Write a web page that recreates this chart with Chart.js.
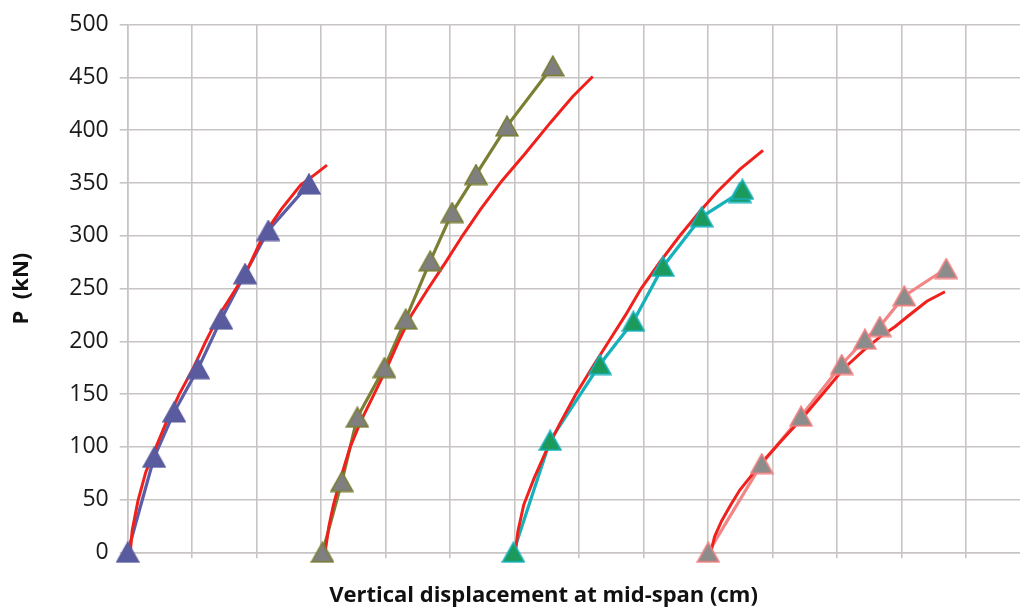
<!DOCTYPE html>
<html>
<head>
<meta charset="utf-8">
<script src="https://cdn.jsdelivr.net/npm/chart.js@4.4.1/dist/chart.umd.min.js"></script>
<style>
  html, body { margin: 0; padding: 0; background: #ffffff; overflow: hidden; }
  #wrap { width: 1020px; height: 614px; overflow: hidden; position: relative; }
  #c { position: absolute; left: 0; top: 0; }
</style>
</head>
<body>
<div id="wrap"><canvas id="c" width="1100" height="614"></canvas></div>
<script>
// ---- Data ----
const yTicks = [0, 50, 100, 150, 200, 250, 300, 350, 400, 450, 500];

// Beam 1 – experiment (blue) and FE model (red)
const exp1X = [0, 0.41, 0.72, 1.09, 1.45, 1.82, 2.18, 2.81];
const exp1Y = [0, 90, 133, 174, 221, 264, 305, 349];
const fem1X = [0.04, 0.07, 0.16, 0.28, 0.44, 0.61, 0.80, 1.02, 1.21, 1.42, 1.68, 1.84, 2.10, 2.38, 2.68, 2.90, 3.09];
const fem1Y = [0, 21, 49, 76, 100, 125, 150, 175, 200, 225, 250, 266, 300, 325, 348, 358, 367];

// Beam 2 – experiment (olive) and FE model (red)
const exp2X = [3.02, 3.32, 3.56, 3.98, 4.31, 4.69, 5.03, 5.40, 5.88, 6.59];
const exp2Y = [0, 67, 128, 175, 221, 276, 322, 358, 404, 461];
const fem2X = [3.06, 3.12, 3.19, 3.30, 3.45, 3.62, 3.82, 4.02, 4.20, 4.40, 4.66, 4.93, 5.19, 5.47, 5.80, 6.15, 6.55, 6.90, 7.21];
const fem2Y = [0, 25, 45, 70, 100, 125, 150, 175, 200, 225, 250, 275, 300, 325, 352, 377, 407, 432, 451];

// Beam 3 – experiment (cyan) and FE model (red)
const exp3X = [5.98, 6.55, 7.32, 7.84, 8.30, 8.90, 9.49, 9.53];
const exp3Y = [0, 106, 178, 219, 271, 318, 341, 344];
const fem3X = [6.01, 6.05, 6.14, 6.30, 6.48, 6.70, 6.95, 7.20, 7.46, 7.72, 7.96, 8.25, 8.56, 8.87, 9.13, 9.49, 9.85];
const fem3Y = [0, 20, 45, 70, 95, 122, 150, 175, 200, 225, 250, 275, 300, 323, 341, 363, 381];

// Beam 4 – experiment (pink) and FE model (red)
const exp4X = [9.00, 9.83, 10.44, 11.07, 11.43, 11.66, 12.04, 12.69];
const exp4Y = [0, 84, 129, 178, 202, 214, 243, 269];
const fem4X = [9.04, 9.10, 9.21, 9.35, 9.49, 9.66, 9.83, 10.11, 10.47, 10.80, 11.10, 11.40, 11.66, 11.90, 12.10, 12.39, 12.67];
const fem4Y = [0, 15, 30, 45, 59, 72, 85, 104, 128, 152, 174, 191, 204, 214, 224, 238, 247];

const xTitle = 'Vertical displacement at mid-span (cm)';
const yTitle = 'P  (kN)';

// ---- helpers ----
const pts = (xs, ys) => xs.map((x, i) => ({ x: x, y: ys[i] }));

function triangle(fill, stroke) {
  const c = document.createElement('canvas');
  c.width = 24; c.height = 22;
  const g = c.getContext('2d');
  g.beginPath();
  g.moveTo(12, 1.2);
  g.lineTo(22.8, 20.6);
  g.lineTo(1.2, 20.6);
  g.closePath();
  g.fillStyle = fill;
  g.fill();
  g.lineWidth = 1.6;
  g.strokeStyle = stroke;
  g.stroke();
  return c;
}

const RED = '#f0201c';
const series = [
  { x: exp1X, y: exp1Y, line: '#5b5ea6', fill: '#5a5b9f', edge: '#5a5b9f' },
  { x: exp2X, y: exp2Y, line: '#7b7f34', fill: '#7f7f7f', edge: '#7b7f34' },
  { x: exp3X, y: exp3Y, line: '#17b1bb', fill: '#1c9a5c', edge: '#17b1bb' },
  { x: exp4X, y: exp4Y, line: '#f28686', fill: '#8c8c8c', edge: '#f08080' }
];
const fems = [pts(fem1X, fem1Y), pts(fem2X, fem2Y), pts(fem3X, fem3Y), pts(fem4X, fem4Y)];

const datasets = [];
series.forEach(s => {
  datasets.push({
    data: pts(s.x, s.y), showLine: false, pointStyle: triangle(s.fill, s.edge),
    pointRadius: 11, order: 0, clip: false
  });
});
fems.forEach(d => {
  datasets.push({
    data: d, showLine: true, borderColor: RED, borderWidth: 3, pointRadius: 0,
    tension: 0, order: 1, clip: false
  });
});
series.forEach(s => {
  datasets.push({
    data: pts(s.x, s.y), showLine: true, borderColor: s.line, borderWidth: 3.2,
    pointRadius: 0, tension: 0, order: 2, clip: false
  });
});

const GRID = '#c9c4c4';
const X_STEP_PX = 64.5, LEFT = 127.7;
const TITLE_FONT = { family: 'Open Sans', size: 22, weight: 'bold', lineHeight: 1.2 };

const chart = new Chart(document.getElementById('c'), {
  type: 'scatter',
  data: { datasets: datasets },
  options: {
    responsive: false,
    animation: false,
    devicePixelRatio: 1,
    layout: { padding: { left: 0, right: 13, top: 21.7, bottom: 0 } },
    plugins: {
      legend: { display: false },
      tooltip: { enabled: false },
      title: {
        display: true, text: xTitle, position: 'bottom', color: '#111111',
        font: TITLE_FONT,
        padding: { top: 0, bottom: 5 }
      }
    },
    scales: {
      x: {
        type: 'linear', min: 0, max: 14,
        ticks: { display: false, stepSize: 1, includeBounds: false },
        grid: { color: GRID, lineWidth: 1.6, tickLength: 6, drawTicks: true },
        border: { display: true, color: GRID, width: 1.6 },
        afterFit: sc => { sc.height = 614 - 552.3 - (22 * 1.2 + 5); }
      },
      y: {
        min: 0, max: 500,
        afterBuildTicks: sc => { sc.ticks = yTicks.map(v => ({ value: v })); },
        ticks: {
          color: '#1a1a1a', padding: 11,
          font: { family: 'Open Sans', size: 23 }
        },
        grid: { color: GRID, lineWidth: 1.6, tickLength: 8 },
        border: { display: true, color: GRID, width: 1.6 },
        title: {
          display: true, text: yTitle, color: '#111111',
          font: TITLE_FONT,
          padding: { top: 9, bottom: 0 }
        },
        afterFit: sc => { sc.width = LEFT; }
      }
    }
  }
});
// keep the grid spacing of the reference: one x unit = 64.5 px
const ca = chart.chartArea;
chart.options.scales.x.max = (ca.right - ca.left) / X_STEP_PX;
chart.update();
</script>
</body>
</html>
